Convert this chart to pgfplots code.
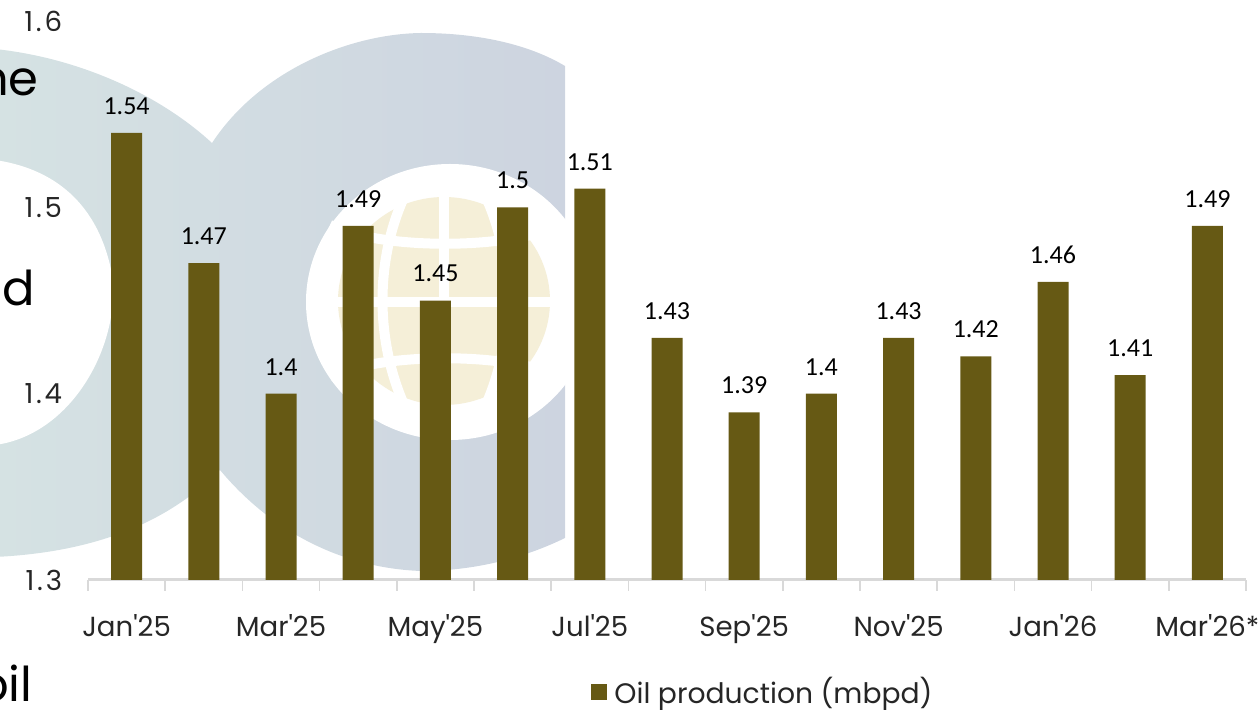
\documentclass[border=0pt]{standalone}
\usepackage{fontspec}
\setmainfont{Poppins}[Ligatures=TeXOff]
\newfontfamily\lblfont{Carlito}
\usepackage{pgfplots}
\pgfplotsset{compat=1.18}

\definecolor{barcol}{HTML}{665914}
\definecolor{axiscol}{HTML}{D9D9D9}
\definecolor{txtcol}{HTML}{262626}
\definecolor{wmleft}{HTML}{D5E2E3}
\definecolor{wmmid}{HTML}{D1DBE1}
\definecolor{wmright}{HTML}{CDD4E0}
\definecolor{globecol}{HTML}{F5EFD8}

\pgfplotstableread{
x  y
0  1.54
1  1.47
2  1.4
3  1.49
4  1.45
5  1.5
6  1.51
7  1.43
8  1.39
9  1.4
10 1.43
11 1.42
12 1.46
13 1.41
14 1.49
}\oildata

\begin{document}
\begin{tikzpicture}
\useasboundingbox (0,0) rectangle (630pt,-355pt);
\clip (0,0) rectangle (630pt,-355pt);

% watermark, in reference pixels
\begin{scope}[x=0.5pt,y=-0.5pt]
\shade[left color=wmleft,middle color=wmmid,right color=wmright]
  (-5,49) .. controls (80,58) and (160,95) .. (212,143)
  .. controls (260,70) and (350,34) .. (421,33)
  .. controls (480,33) and (530,45) .. (565,66)
  -- (565,538)
  .. controls (520,560) and (470,571) .. (421,571)
  .. controls (340,568) and (270,530) .. (220,470)
  .. controls (170,520) and (100,552) .. (-5,557) -- cycle;
\fill[white]
  (-5,160) .. controls (50,168) and (100,200) .. (113,280)
  .. controls (118,350) and (70,435) .. (-5,445) -- cycle;
\fill[white] (450,302) ellipse [x radius=144,y radius=138];
\fill[globecol] (444,301) ellipse [x radius=106,y radius=104];
\draw[white,line width=5pt] (444,190) -- (444,412);
\draw[white,line width=5pt] (330,302) -- (560,302);
\draw[white,line width=5pt] (330,225) .. controls (380,250) and (510,250) .. (560,225);
\draw[white,line width=5pt] (330,377) .. controls (380,352) and (510,352) .. (560,377);
\draw[white,line width=5pt] (405,195) .. controls (375,260) and (375,340) .. (405,407);
\draw[white,line width=5pt] (485,195) .. controls (515,260) and (515,340) .. (485,407);
\node[anchor=base east,inner sep=0pt,text=black,font=\fontsize{24}{28}\selectfont] at (39,96) {ne};
\node[anchor=base east,inner sep=0pt,text=black,font=\fontsize{24}{28}\selectfont] at (35,306) {d};
\node[anchor=base east,inner sep=0pt,text=black,font=\fontsize{24}{28}\selectfont] at (33,702) {oil};
\end{scope}

\begin{axis}[
    at={(44pt,-290pt)},anchor=south west,
    scale only axis,
    width=579pt,height=279.5pt,
    ybar,bar width=15.5pt,
    clip=false,
    xmin=-0.5,xmax=14.5,
    ymin=1.3,ymax=1.6,
    axis x line*=bottom,axis y line*=left,
    x axis line style={draw=axiscol,line width=1.5pt,-},
    y axis line style={draw=none},
    xtick={0,2,4,6,8,10,12,14},
    xticklabels={Jan'25,Mar'25,May'25,Jul'25,Sep'25,Nov'25,Jan'26,Mar'26*},
    minor xtick={-0.5,0.5,...,14.5},
    major x tick style={draw=none},
    minor x tick style={draw=axiscol,line width=0.8pt},
    minor tick length=5.5pt,
    tick align=outside,
    ytick={1.3,1.4,1.5,1.6},
    ytick style={draw=none},
    /pgf/number format/assume math mode=true,
    tick label style={font=\fontsize{13.8}{16}\selectfont,text=txtcol,inner sep=0pt},
    xticklabel style={anchor=base,yshift=-24pt},
    yticklabel style={anchor=east,xshift=-8.5pt,font=\fontsize{13.8}{16}\selectfont\addfontfeature{LetterSpace=10}},
    nodes near coords,
    nodes near coords style={font=\lblfont\fontsize{13}{15}\selectfont,text=black,anchor=south,inner sep=0pt,yshift=9pt},
    legend style={at={(0.4344,-0.2)},anchor=west,draw=none,fill=none,inner sep=0pt,
      font=\fontsize{14.1}{16}\selectfont,text=txtcol},
    legend image code/.code={\fill[barcol] (0pt,-4pt) rectangle (8pt,4pt);},
    legend cell align=left,
]
\addplot[fill=barcol,draw=none] table[x=x,y=y] {\oildata};
\addlegendentry{\hspace{1.5pt}Oil production (mbpd)}
\end{axis}
\end{tikzpicture}
\end{document}
